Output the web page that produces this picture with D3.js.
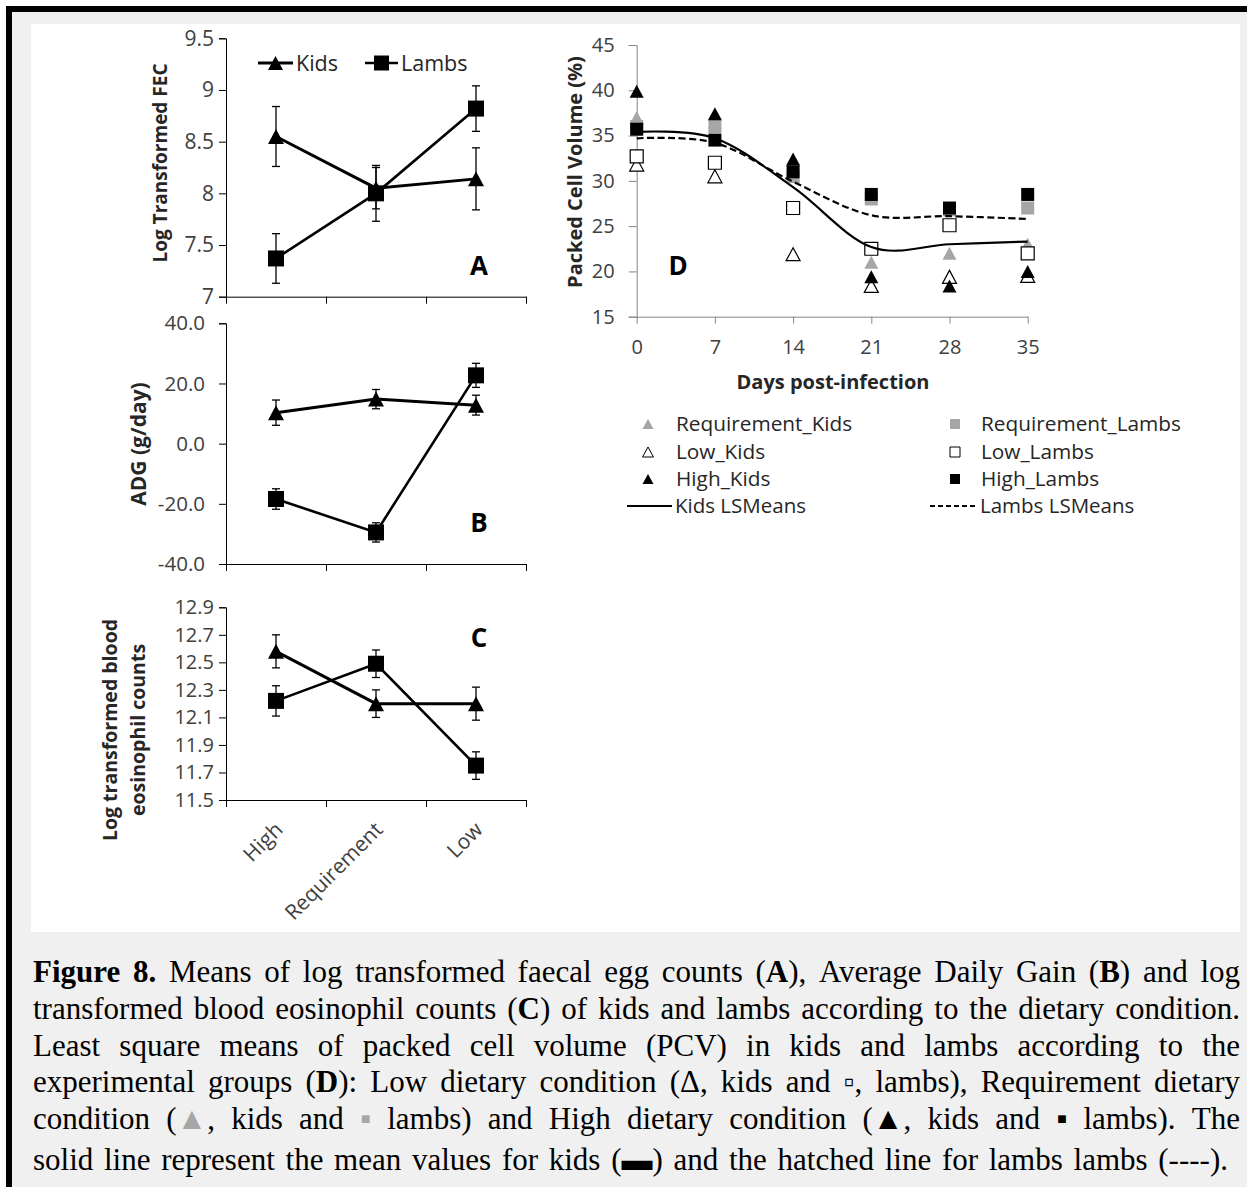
<!DOCTYPE html>
<html>
<head>
<meta charset="utf-8">
<script src="https://cdn.jsdelivr.net/npm/d3@7"></script>
<style>
  body { margin: 0; background: #fff; }
  svg { display: block; }
  text { font-family: "Open Sans", Lato, sans-serif; }
  .cap text { font-family: "Liberation Serif", "Times New Roman", serif; }
</style>
</head>
<body>
<svg id="fig" width="1247" height="1187"></svg>
<script>
// ---- data ----
const dietGroups = ['High', 'Requirement', 'Low'];

const fecKids = [8.55, 8.05, 8.14];
const fecKidsErr = [0.29, 0.2, 0.3];
const fecLambs = [7.37, 8.0, 8.82];
const fecLambsErr = [0.24, 0.27, 0.22];

const adgKids = [10.3, 14.8, 12.8];
const adgKidsErr = [4.2, 3.2, 3.3];
const adgLambs = [-18.4, -29.5, 22.7];
const adgLambsErr = [3.4, 3.2, 4.0];

const eosKids = [12.58, 12.2, 12.2];
const eosKidsErr = [0.12, 0.1, 0.12];
const eosLambs = [12.22, 12.49, 11.75];
const eosLambsErr = [0.11, 0.1, 0.1];

const days = [0, 7, 14, 21, 28, 35];
const pcvReqKids = [37, 36.5, 30.5, 21, 22, 23];
const pcvReqLambs = [36, 36, 30.5, 28, 26.8, 27];
const pcvLowKids = [31.8, 30.5, 21.9, 18.4, 19.4, 19.5];
const pcvLowLambs = [32.7, 32, 27, 22.5, 25.1, 22];
const pcvHighKids = [39.9, 37.4, 32.4, 19.4, 18.4, 20];
const pcvHighLambs = [35.7, 34.5, 31, 28.5, 27, 28.5];
const lsKids = [35.4, 34.7, 29.3, 22.7, 23.0, 23.3];
const lsLambs = [34.7, 34.2, 29.9, 26.2, 26.1, 25.8];

const fecTicks = [7, 7.5, 8, 8.5, 9, 9.5];
const adgTicks = [-40, -20, 0, 20, 40];
const eosTicks = [11.5, 11.7, 11.9, 12.1, 12.3, 12.5, 12.7, 12.9];
const pcvTicks = [15, 20, 25, 30, 35, 40, 45];

const captionLines = [
  '*Figure* *8.* Means of log transformed faecal egg counts (*A*), Average Daily Gain (*B*) and log',
  'transformed blood eosinophil counts (*C*) of kids and lambs according to the dietary condition.',
  'Least square means of packed cell volume (PCV) in kids and lambs according to the',
  'experimental groups (*D*): Low dietary condition (\u0394, kids and \u25AB, lambs), Requirement dietary',
  'condition (~\u25B2~, kids and ~\u25AA~ lambs) and High dietary condition (*\u25B2*, kids and \u25AA lambs). The',
  'solid line represent the mean values for kids (*\u25AC*) and the hatched line for lambs lambs (----).'
];

const GREY = '#a6a6a6';
const svg = d3.select('#fig');

// ---- frame ----
svg.append('rect').attr('x', 6).attr('y', 6).attr('width', 1241).attr('height', 1181).attr('fill', '#000');
svg.append('rect').attr('x', 12).attr('y', 12).attr('width', 1235).attr('height', 1175).attr('fill', '#f0f0f0');
svg.append('rect').attr('x', 31).attr('y', 24).attr('width', 1209).attr('height', 908).attr('fill', '#fff');

// marker helpers
function triPath(w, h) {
  return `M0,${-h / 2}L${w / 2},${h / 2}L${-w / 2},${h / 2}Z`;
}
function sqPath(s) {
  return `M${-s / 2},${-s / 2}h${s}v${s}h${-s}Z`;
}

// ---- panels A-C (dietary condition) ----
const xBand = d3.scaleBand(dietGroups, [226, 526]);
const xEdge = d3.scaleLinear([0, 3], [226, 526]);

function dietPanel(opt) {
  const y = d3.scaleLinear(opt.domain, opt.range);
  const g = svg.append('g');

  g.append('g')
    .attr('transform', 'translate(226,0)')
    .call(d3.axisLeft(y).tickValues(opt.ticks).tickSize(7).tickPadding(opt.pad).tickFormat(opt.fmt))
    .call(a => a.select('.domain').attr('stroke', '#000'))
    .call(a => a.selectAll('.tick line').attr('stroke', '#000'))
    .call(a => a.selectAll('text').attr('font-size', opt.tickSize).attr('fill', '#404040')
      .attr('font-family', '"Open Sans", sans-serif'));

  g.append('g')
    .attr('transform', `translate(0,${opt.range[0]})`)
    .call(d3.axisBottom(xEdge).tickValues([0, 1, 2, 3]).tickSize(7).tickSizeOuter(0).tickFormat(''))
    .call(a => a.select('.domain').attr('stroke', '#000'))
    .call(a => a.selectAll('.tick line').attr('stroke', '#000'));

  const cx = d => xBand(d) + xBand.bandwidth() / 2;

  [
    { v: opt.kids, e: opt.kidsErr, shape: triPath(16, 15), w: 3 },
    { v: opt.lambs, e: opt.lambsErr, shape: sqPath(16), w: 2.6 }
  ].forEach(s => {
    const pts = dietGroups.map((d, i) => ({ x: cx(d), v: s.v[i], e: s.e[i] }));
    g.append('path')
      .attr('d', d3.line().x(p => p.x).y(p => y(p.v))(pts))
      .attr('fill', 'none').attr('stroke', '#000').attr('stroke-width', s.w);
    const eb = g.append('g').attr('stroke', '#000').attr('stroke-width', 1.3);
    pts.forEach(p => {
      eb.append('line').attr('x1', p.x).attr('x2', p.x).attr('y1', y(p.v - p.e)).attr('y2', y(p.v + p.e));
      eb.append('line').attr('x1', p.x - 4).attr('x2', p.x + 4).attr('y1', y(p.v - p.e)).attr('y2', y(p.v - p.e));
      eb.append('line').attr('x1', p.x - 4).attr('x2', p.x + 4).attr('y1', y(p.v + p.e)).attr('y2', y(p.v + p.e));
    });
    g.selectAll(null).data(pts).enter().append('path')
      .attr('d', s.shape)
      .attr('transform', p => `translate(${p.x},${y(p.v)})`)
      .attr('fill', '#000');
  });

  g.append('text')
    .attr('x', 479).attr('y', opt.letterY)
    .attr('text-anchor', 'middle')
    .attr('font-family', 'Liberation Sans, Arial, sans-serif')
    .attr('font-weight', 'bold').attr('font-size', 26)
    .text(opt.letter);

  opt.label.forEach((t, i) => {
    g.append('text')
      .attr('transform', `translate(${opt.labelX[i]},${opt.labelY}) rotate(-90)`)
      .attr('text-anchor', 'middle')
      .attr('dominant-baseline', 'central')
      .attr('font-weight', 'bold').attr('font-size', opt.labelSize).attr('fill', '#262626')
      .text(t);
  });
  return g;
}

const fmtG = d => d3.format('~g')(d);
const fmt1 = d => d.toFixed(1);

const gA = dietPanel({
  domain: [7, 9.5], range: [296.7, 38.3], ticks: fecTicks, fmt: fmtG, tickSize: 21, pad: 5,
  kids: fecKids, kidsErr: fecKidsErr, lambs: fecLambs, lambsErr: fecLambsErr,
  letter: 'A', letterY: 275, label: ['Log Transformed FEC'], labelX: [160], labelY: 163, labelSize: 19
});
dietPanel({
  domain: [-40, 40], range: [564, 323.3], ticks: adgTicks, fmt: fmt1, tickSize: 20.5, pad: 14,
  kids: adgKids, kidsErr: adgKidsErr, lambs: adgLambs, lambsErr: adgLambsErr,
  letter: 'B', letterY: 532, label: ['ADG (g/day)'], labelX: [138], labelY: 444, labelSize: 21
});
const gC = dietPanel({
  domain: [11.5, 12.9], range: [800, 607.3], ticks: eosTicks, fmt: fmt1, tickSize: 20, pad: 5,
  kids: eosKids, kidsErr: eosKidsErr, lambs: eosLambs, lambsErr: eosLambsErr,
  letter: 'C', letterY: 647, label: ['Log transformed blood', 'eosinophil counts'], labelX: [109, 137], labelY: 730, labelSize: 19.5
});

// category labels under panel C
gC.selectAll('text.cat').data(dietGroups).enter().append('text')
  .attr('class', 'cat')
  .attr('transform', d => `translate(${xBand(d) + xBand.bandwidth() / 2 + 8},831) rotate(-45)`)
  .attr('text-anchor', 'end')
  .attr('font-size', 21).attr('fill', '#404040')
  .text(d => d);

// legend of panel A
const legA = gA.append('g');
[
  { name: 'Kids', x0: 258, x1: 293, shape: triPath(15, 14), w: 3 },
  { name: 'Lambs', x0: 365, x1: 398, shape: sqPath(15), w: 2.6 }
].forEach(s => {
  legA.append('line').attr('x1', s.x0).attr('x2', s.x1).attr('y1', 63).attr('y2', 63)
    .attr('stroke', '#000').attr('stroke-width', s.w);
  legA.append('path').attr('d', s.shape)
    .attr('transform', `translate(${(s.x0 + s.x1) / 2},63)`).attr('fill', '#000');
  legA.append('text').attr('x', s.x1 + 3).attr('y', 63).attr('dy', '0.35em')
    .attr('font-size', 21.5).attr('fill', '#262626').text(s.name);
});

// ---- panel D (PCV over time) ----
const xD = d3.scaleLinear([0, 35], [636.7, 1027.7]);
const yD = d3.scaleLinear([15, 45], [316.7, 45]);
const gD = svg.append('g');

gD.append('g')
  .attr('transform', 'translate(636.7,0)')
  .call(d3.axisLeft(yD).tickValues(pcvTicks).tickSize(8).tickPadding(14))
  .call(a => a.selectAll('.domain, .tick line').attr('stroke', '#868686'))
  .call(a => a.selectAll('text').attr('font-size', 20).attr('fill', '#404040'));

gD.append('g')
  .attr('transform', 'translate(0,316.7)')
  .call(d3.axisBottom(xD).tickValues(days).tickSize(7).tickSizeOuter(0).tickPadding(16))
  .call(a => a.selectAll('.domain, .tick line').attr('stroke', '#868686'))
  .call(a => a.selectAll('text').attr('font-size', 20).attr('fill', '#404040'));

gD.append('text')
  .attr('transform', 'translate(574,172) rotate(-90)')
  .attr('text-anchor', 'middle').attr('dominant-baseline', 'central')
  .attr('font-weight', 'bold').attr('font-size', 20).attr('fill', '#262626')
  .text('Packed Cell Volume (%)');

gD.append('text')
  .attr('x', 833).attr('y', 389).attr('text-anchor', 'middle')
  .attr('font-weight', 'bold').attr('font-size', 20).attr('fill', '#262626')
  .text('Days post-infection');

gD.append('text')
  .attr('x', 678).attr('y', 275).attr('text-anchor', 'middle')
  .attr('font-family', 'Liberation Sans, Arial, sans-serif')
  .attr('font-weight', 'bold').attr('font-size', 26)
  .text('D');

const pcvSeries = [
  { name: 'Requirement_Kids', v: pcvReqKids, shape: 'tri', fill: GREY, stroke: 'none' },
  { name: 'Requirement_Lambs', v: pcvReqLambs, shape: 'sq', fill: GREY, stroke: 'none' },
  { name: 'Low_Kids', v: pcvLowKids, shape: 'tri', fill: '#fff', stroke: '#000' },
  { name: 'Low_Lambs', v: pcvLowLambs, shape: 'sq', fill: '#fff', stroke: '#000' },
  { name: 'High_Kids', v: pcvHighKids, shape: 'tri', fill: '#000', stroke: 'none' },
  { name: 'High_Lambs', v: pcvHighLambs, shape: 'sq', fill: '#000', stroke: 'none' }
];

pcvSeries.forEach(s => {
  gD.selectAll(null).data(days).enter().append('path')
    .attr('d', s.shape === 'tri' ? triPath(14, 13) : sqPath(13))
    .attr('transform', (d, i) => `translate(${xD(d)},${yD(s.v[i])})`)
    .attr('fill', s.fill).attr('stroke', s.stroke).attr('stroke-width', 1.2);
});

const lsLine = vals => d3.line()
  .x(d => xD(d))
  .y((d, i) => yD(vals[i]))
  .curve(d3.curveCardinal.tension(0))(days);

gD.append('path').attr('d', lsLine(lsKids))
  .attr('fill', 'none').attr('stroke', '#000').attr('stroke-width', 2.2);
gD.append('path').attr('d', lsLine(lsLambs))
  .attr('fill', 'none').attr('stroke', '#000').attr('stroke-width', 2.2)
  .attr('stroke-dasharray', '7,3.5');

// legend D
const legRows = [424, 452, 479];
const legD = gD.append('g');
pcvSeries.forEach((s, i) => {
  const col = i % 2, row = Math.floor(i / 2);
  const mx = col ? 955 : 648, tx = col ? 981 : 676, y = legRows[row];
  legD.append('path')
    .attr('d', s.shape === 'tri' ? triPath(11, 10) : sqPath(10))
    .attr('transform', `translate(${mx},${y})`)
    .attr('fill', s.fill).attr('stroke', s.stroke).attr('stroke-width', 1);
  legD.append('text').attr('x', tx).attr('y', y).attr('dy', '0.35em')
    .attr('font-size', 20.8).attr('fill', '#262626').text(s.name);
});
[
  { name: 'Kids LSMeans', x0: 627, x1: 672, dash: null },
  { name: 'Lambs LSMeans', x0: 930, x1: 977, dash: '5,3' }
].forEach(s => {
  legD.append('line').attr('x1', s.x0).attr('x2', s.x1).attr('y1', 506).attr('y2', 506)
    .attr('stroke', '#000').attr('stroke-width', 2).attr('stroke-dasharray', s.dash);
  legD.append('text').attr('x', s.x1 + 3).attr('y', 506).attr('dy', '0.35em')
    .attr('font-size', 20.5).attr('fill', '#262626').text(s.name);
});

// ---- caption (justified) ----
const capG = svg.append('g').attr('class', 'cap');
const capSize = 31;
const capBase = [982, 1019, 1056, 1092, 1129, 1170];
const capX0 = 33, capX1 = [1240, 1240, 1240, 1240, 1240, 1228];

function parseWord(w) {
  return (w.match(/\*[^*]+\*|~[^~]+~|[^*~]+/g) || []).map(s => {
    if (s[0] === '*') return { t: s.slice(1, -1), bold: true };
    if (s[0] === '~') return { t: s.slice(1, -1), grey: true };
    return { t: s };
  });
}
function addSegs(el, segs) {
  segs.forEach(s => {
    el.append('tspan')
      .attr('font-weight', s.bold ? 'bold' : null)
      .attr('fill', s.grey ? GREY : null)
      .text(s.t);
  });
}

captionLines.forEach((line, li) => {
  const words = line.split(' ').filter(w => w.length).map(parseWord);
  const widths = words.map(segs => {
    const tmp = capG.append('text').attr('font-size', capSize);
    addSegs(tmp, segs);
    const w = tmp.node().getComputedTextLength();
    tmp.remove();
    return w;
  });
  const total = d3.sum(widths);
  const gap = (capX1[li] - capX0 - total) / (words.length - 1);
  const t = capG.append('text').attr('y', capBase[li]).attr('font-size', capSize).attr('fill', '#000');
  let x = capX0;
  words.forEach((segs, wi) => {
    const first = t.append('tspan').attr('x', x);
    addSegs(first, segs);
    x += widths[wi] + gap;
  });
});
</script>
</body>
</html>
